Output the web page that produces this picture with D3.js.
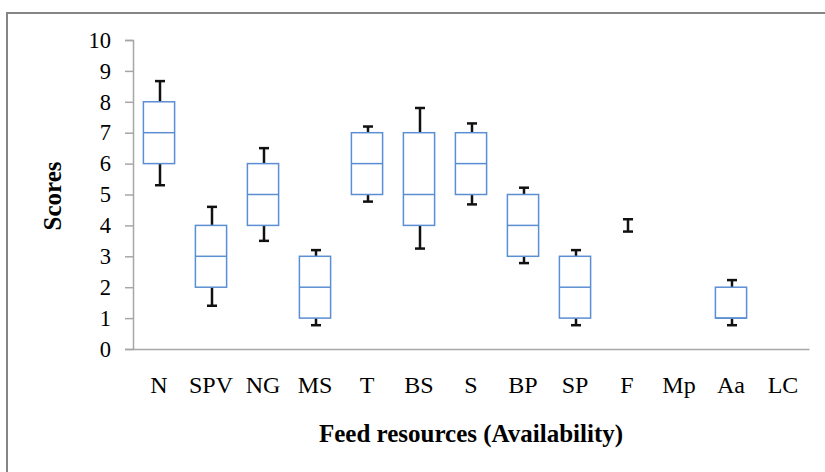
<!DOCTYPE html>
<html>
<head>
<meta charset="utf-8">
<script src="https://cdn.jsdelivr.net/npm/d3@7"></script>
<style>
  html, body { margin: 0; padding: 0; background: #fff; }
  svg { display: block; }
</style>
</head>
<body>
<svg id="chart" width="825" height="472"></svg>
<script>
// Feed resource availability scores (box plot summary per resource)
const categories = ["N", "SPV", "NG", "MS", "T", "BS", "S", "BP", "SP", "F", "Mp", "Aa", "LC"];
const whiskerLow  = [5.3, 1.4, 3.5, 0.77, 4.77, 3.25, 4.68, 2.78, 0.77, 3.8, null, 0.77, null];
const quartile1   = [6,   2,   4,   1,    5,    4,    5,    3,    1,    4,   null, 1,    null];
const medians     = [7,   3,   5,   2,    6,    5,    6,    4,    2,    4,   null, 1,    null];
const quartile3   = [8,   4,   6,   3,    7,    7,    7,    5,    3,    4,   null, 2,    null];
const whiskerHigh = [8.67, 4.6, 6.5, 3.2, 7.2,  7.8,  7.3,  5.22, 3.2,  4.2, null, 2.23, null];
const yTicks = [0, 1, 2, 3, 4, 5, 6, 7, 8, 9, 10];

const FONT = "Liberation Serif";
const svg = d3.select("#chart");
const margin = { left: 133, right: 16, top: 40, bottom: 123 };
const W = 825, H = 472;

// outer chart frame (extends beyond the visible area at right and bottom)
svg.append("rect")
  .attr("x", 7).attr("y", 13)
  .attr("width", 900).attr("height", 600)
  .attr("fill", "none")
  .attr("stroke", "#858585")
  .attr("stroke-width", 2);

const x = d3.scaleBand()
  .domain(categories)
  .range([margin.left, W - margin.right])
  .paddingInner(0.4)
  .paddingOuter(0.2);

const y = d3.scaleLinear()
  .domain([0, 10])
  .range([H - margin.bottom, margin.top]);

// y axis
const yAxis = svg.append("g")
  .attr("transform", `translate(${margin.left},0)`)
  .call(d3.axisLeft(y).tickValues(yTicks).tickSize(8).tickPadding(14).tickFormat(d3.format("d")))
  .attr("font-family", FONT)
  .attr("font-size", 22.5);
yAxis.select(".domain").attr("stroke", "#a6a6a6").attr("stroke-width", 1.5);
yAxis.selectAll(".tick line").attr("stroke", "#a6a6a6").attr("stroke-width", 1.5);
yAxis.selectAll(".tick text").attr("fill", "#000");

// x axis (line only, no tick marks)
const xAxis = svg.append("g")
  .attr("transform", `translate(0,${y(0)})`)
  .call(d3.axisBottom(x).tickSize(0).tickPadding(27))
  .attr("font-family", FONT)
  .attr("font-size", 24);
xAxis.select(".domain").attr("stroke", "#a6a6a6").attr("stroke-width", 1.5);
xAxis.selectAll(".tick text").attr("fill", "#000");

const data = categories.map((c, i) => ({
  cat: c, lo: whiskerLow[i], q1: quartile1[i], med: medians[i], q3: quartile3[i], hi: whiskerHigh[i]
})).filter(d => d.lo !== null);

const bw = x.bandwidth();
const capW = 10;

const g = svg.append("g");

// whiskers with caps
data.forEach(d => {
  const cx = x(d.cat) + bw / 2 + 1;
  const wg = g.append("g").attr("stroke", "#111").attr("stroke-width", 2.5);
  wg.append("line").attr("x1", cx).attr("x2", cx).attr("y1", y(d.lo)).attr("y2", y(d.hi));
  wg.append("line").attr("x1", cx - capW / 2).attr("x2", cx + capW / 2).attr("y1", y(d.lo)).attr("y2", y(d.lo));
  wg.append("line").attr("x1", cx - capW / 2).attr("x2", cx + capW / 2).attr("y1", y(d.hi)).attr("y2", y(d.hi));
});

// boxes with median line
data.filter(d => d.q3 > d.q1).forEach(d => {
  const bx = x(d.cat);
  g.append("rect")
    .attr("x", bx).attr("y", y(d.q3))
    .attr("width", bw).attr("height", y(d.q1) - y(d.q3))
    .attr("fill", "#fff")
    .attr("stroke", "#5b8ed3")
    .attr("stroke-width", 1.5);
  g.append("line")
    .attr("x1", bx).attr("x2", bx + bw)
    .attr("y1", y(d.med)).attr("y2", y(d.med))
    .attr("stroke", "#5b8ed3")
    .attr("stroke-width", 1.5);
});

// axis titles
svg.append("text")
  .attr("x", 471).attr("y", 442)
  .attr("text-anchor", "middle")
  .attr("font-family", FONT)
  .attr("font-weight", "bold")
  .attr("font-size", 25)
  .text("Feed resources (Availability)");

svg.append("text")
  .attr("transform", "translate(61,196) rotate(-90)")
  .attr("text-anchor", "middle")
  .attr("font-family", FONT)
  .attr("font-weight", "bold")
  .attr("font-size", 25)
  .text("Scores");
</script>
</body>
</html>
